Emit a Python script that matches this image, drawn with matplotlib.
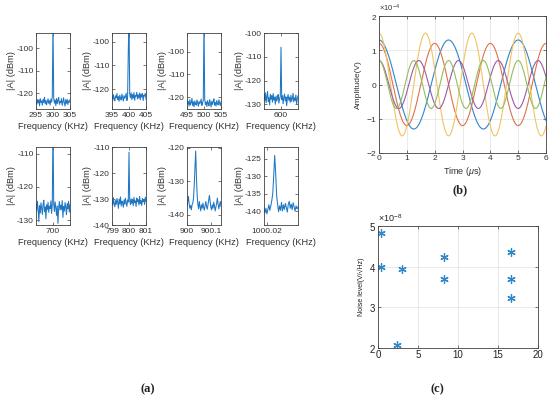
import numpy as np
import matplotlib
matplotlib.use('Agg')
import matplotlib.pyplot as plt
from matplotlib.ticker import ScalarFormatter

plt.rcParams['font.family'] = ['Liberation Sans', 'DejaVu Sans']
plt.rcParams['mathtext.fontset'] = 'custom'
plt.rcParams['mathtext.it'] = 'Liberation Sans:italic'
plt.rcParams['mathtext.rm'] = 'Liberation Sans'
plt.rcParams['axes.unicode_minus'] = False

########################################################################################
# (a) spectra, |A| in dBm, left noise + peak + right noise
spec300 = [-123.6,-125.1,-122.9,-124.4,-123.0,-125.7,-122.5,-124.1,-123.5,-125.4,-122.8,-124.2,
           -121.9,-124.8,-123.3,-125.2,-123.7,-122.6,-124.6,-123.4,-125.3,-122.7,-124.0,-121.6,
           -88.0,
           -122.2,-124.5,-123.1,-125.6,-122.4,-124.7,-123.2,-122.0,-125.0,-123.8,-124.3,-122.5,
           -125.5,-123.9,-122.1,-124.4,-125.8,-123.0,-124.6,-122.8,-125.1,-123.5,-124.1,-122.9]
spec400 = [-123.0,-124.8,-122.4,-124.1,-125.0,-122.9,-123.8,-121.9,-124.6,-123.2,-125.2,-122.6,
           -123.9,-124.7,-122.2,-123.5,-125.1,-122.8,-124.0,-123.3,-121.8,-124.9,-123.6,-104.0,
           -90.0,
           -122.0,-123.7,-121.6,-124.5,-122.3,-123.9,-121.5,-124.8,-122.7,-123.1,-121.4,-124.2,
           -122.5,-123.8,-121.7,-124.6,-122.1,-123.4,-121.9,-124.9,-122.6,-123.0,-121.8,-124.3]
spec500 = [-121.5,-123.2,-122.0,-124.0,-121.2,-123.5,-122.4,-120.6,-123.8,-122.1,-124.3,-121.7,
           -122.9,-123.6,-121.3,-122.6,-124.1,-121.9,-123.0,-122.3,-120.9,-123.7,-122.5,-121.4,
           -85.0,
           -121.0,-123.4,-122.2,-124.2,-121.6,-122.8,-123.9,-121.1,-122.7,-124.4,-121.8,-123.3,
           -122.0,-120.8,-123.6,-122.4,-124.0,-121.5,-122.9,-123.5,-121.2,-122.6,-123.8,-122.1]
spec600 = [-126.0,-128.5,-125.2,-129.4,-126.8,-124.6,-128.9,-127.2,-130.3,-125.8,-127.9,-126.3,
           -129.1,-125.5,-128.2,-127.0,-130.0,-126.5,-128.7,-127.4,-125.9,-129.5,-127.8,-126.6,
           -106.0,
           -128.0,-126.4,-129.8,-127.1,-125.7,-128.6,-126.9,-130.6,-127.5,-125.9,-128.3,-127.0,
           -129.2,-126.2,-128.8,-127.6,-125.4,-129.0,-127.3,-128.4,-126.1,-130.1,-127.7,-126.5]
spec700 = [-125.0,-127.2,-124.3,-126.8,-130.5,-125.6,-127.9,-124.8,-126.4,-128.3,-125.2,-124.0,
           -127.5,-126.0,-129.6,-125.4,-126.9,-124.6,-127.7,-125.8,-126.5,-124.2,-128.0,-125.3,
           -100.0,
           -125.1,-127.4,-124.5,-126.2,-128.6,-125.7,-131.0,-126.3,-124.4,-127.0,-125.5,-126.8,
           -124.1,-129.2,-125.9,-127.3,-124.7,-126.1,-128.4,-125.0,-126.6,-124.3,-127.6,-125.4]
spec800 = [-130.2,-132.4,-129.5,-131.8,-133.0,-130.6,-132.1,-129.8,-131.3,-133.6,-130.0,-131.9,
           -129.2,-132.7,-130.8,-131.5,-133.2,-130.3,-132.0,-129.7,-131.6,-132.8,-130.4,-131.2,
           -112.0,
           -130.5,-132.2,-129.9,-131.7,-130.1,-132.6,-129.4,-131.4,-130.7,-132.9,-129.6,-131.1,
           -130.3,-132.3,-129.0,-131.8,-130.6,-132.5,-129.8,-131.0,-130.2,-132.1,-129.3,-130.9]
spec900 = [-137.5,-136.0,-134.5,-136.8,-138.0,-137.2,-138.5,-137.0,-136.5,-135.0,-131.0,-126.0,
           -121.0,-128.5,-134.0,-136.8,-138.2,-136.0,-137.5,-138.8,-137.0,-138.0,-136.5,-137.8,
           -138.6,-137.2,-136.0,-137.5,-138.3,-137.0,-135.5,-134.2,-136.0,-137.8,-138.5,-137.0,
           -138.0,-136.2,-137.4,-138.8,-137.6,-136.5,-135.0,-136.8,-138.2,-137.0,-136.0,-137.5]
spec1000 = [-139.0,-140.5,-139.2,-140.8,-139.5,-138.2,-139.8,-138.5,-137.0,-135.0,-130.0,-124.0,
            -129.0,-135.5,-138.0,-140.2,-138.5,-139.8,-137.5,-140.0,-138.2,-139.5,-137.8,-139.0,
            -140.3,-138.0,-137.2,-139.2,-138.0,-139.6,-137.6,-138.8,-140.0,-138.5,-139.4,-138.8]

spectra = [spec300, spec400, spec500, spec600, spec700, spec800, spec900, spec1000]
freq_ranges = [(295, 305), (395, 405), (495, 505), (598.5, 601.5),
               (698.5, 701.5), (799, 801), (900, 900.14), (1000.0197, 1000.0235)]
freq_ticks = [[295, 300, 305], [395, 400, 405], [495, 500, 505], [600],
              [700], [799, 800, 801], [900, 900.1], [1000.02]]
freq_ticklabels = [['295', '300', '305'], ['395', '400', '405'], ['495', '500', '505'], ['600'],
                   ['700'], ['799', '800', '801'], ['900', '900.1'], ['1000.02']]
db_limits = [(-127.1, -93.3), (-128.5, -96.2), (-125.3, -91.6), (-132, -100),
             (-131.5, -107.9), (-140, -110), (-143, -119.8), (-144, -121.6)]
db_ticks = [[-120, -110, -100], [-120, -110, -100], [-120, -110, -100], [-130, -120, -110, -100],
            [-130, -120, -110], [-140, -130, -120, -110], [-140, -130, -120], [-140, -135, -130, -125]]

# (b) time signals: amplitude (V), frequency (MHz), phase (rad)
sig_amp = [1.3e-4, 1.2e-4, 1.5e-4, 0.7e-4, 0.7e-4]
sig_freq = [0.4, 0.5, 0.6, 0.7, 0.8]
sig_phase = [0.0, 0.0, 0.0, 0.0, 0.0]
sig_colors = ['#2f86c9', '#e0714a', '#f0c460', '#9a5aa8', '#93bf5c']

# (c) noise level
meas_x = [0.33, 0.33, 3.04, 2.38, 8.3, 8.3, 16.6, 16.6, 16.6]
noise_level = [4.82e-8, 3.98e-8, 3.94e-8, 2.08e-8, 4.24e-8, 3.69e-8, 4.35e-8, 3.70e-8, 3.24e-8]

########################################################################################
dark = '#404040'
txt = '#333333'

def style(ax, fs=6):
    for s in ax.spines.values():
        s.set_color(dark)
        s.set_linewidth(0.6)
    ax.tick_params(direction='in', top=True, right=True, length=2, width=0.5,
                   colors=dark, labelcolor=txt, labelsize=fs, pad=1.5)

fig = plt.figure(figsize=(5.5, 3.99), dpi=100)

lefts = [36, 112, 187, 264]
for k, vals in enumerate(spectra):
    row, col = divmod(k, 4)
    if row == 0:
        top, bot = 33, 109
    else:
        top, bot = 147, 225
    ax = fig.add_axes([lefts[col] / 550, 1 - bot / 399, 34 / 550, (bot - top) / 399])
    f = np.linspace(freq_ranges[k][0], freq_ranges[k][1], len(vals))
    ax.plot(f, vals, color='#1f77c4', lw=0.75)
    ax.set_xlim(freq_ranges[k])
    ax.set_ylim(db_limits[k])
    ax.set_xticks(freq_ticks[k])
    ax.set_xticklabels(freq_ticklabels[k])
    ax.set_yticks(db_ticks[k])
    style(ax, 6)
    ax.tick_params(axis='x', pad=2.5)
    ax.set_xlabel('Frequency (KHz)', fontsize=6.7, color=txt, labelpad=2)
    ax.set_ylabel('|A| (dBm)', fontsize=6.7, color=txt, labelpad=1)

# (b)
axb = fig.add_axes([379 / 550, 1 - 153 / 399, 167 / 550, 137 / 399])
t = np.linspace(0, 6, 700)
for a, fr, ph, c in zip(sig_amp, sig_freq, sig_phase, sig_colors):
    axb.plot(t, a * np.cos(2 * np.pi * fr * t + ph), color=c, lw=0.8)
axb.set_xlim(0, 6)
axb.set_ylim(-2e-4, 2e-4)
axb.set_xticks(range(7))
axb.set_yticks([-2e-4, -1e-4, 0, 1e-4, 2e-4])
fmt = ScalarFormatter(useMathText=True)
fmt.set_powerlimits((0, 0))
axb.yaxis.set_major_formatter(fmt)
axb.yaxis.get_offset_text().set_fontsize(5.5)
axb.yaxis.get_offset_text().set_color(txt)
axb.grid(True, color='#e2e2e2', lw=0.5)
axb.set_axisbelow(True)
style(axb, 6)
axb.set_xlabel(r'Time ($\mu$s)', fontsize=6.5, color=txt, labelpad=2)
axb.set_ylabel('Amplitude(V)', fontsize=6, color=txt, labelpad=3)

# (c)
axc = fig.add_axes([378 / 550, 1 - 348 / 399, 160 / 550, 122 / 399])
axc.plot(meas_x, noise_level, linestyle='none', marker=(6, 2, 0), markersize=6,
         markeredgewidth=0.9, color='#2f86c9')
axc.set_xlim(0, 20)
axc.set_ylim(2e-8, 5e-8)
axc.set_xticks([0, 5, 10, 15, 20])
axc.set_yticks([2e-8, 3e-8, 4e-8, 5e-8])
fmt2 = ScalarFormatter(useMathText=True)
fmt2.set_powerlimits((0, 0))
axc.yaxis.set_major_formatter(fmt2)
axc.yaxis.get_offset_text().set_fontsize(6.5)
axc.yaxis.get_offset_text().set_color('#222222')
axc.grid(True, color='#e2e2e2', lw=0.5)
axc.set_axisbelow(True)
style(axc, 7)
axc.tick_params(labelcolor='#222222')
axc.set_ylabel('Noise level(V/\u221aHz)', fontsize=5, color='#222222', labelpad=3)

for lab, x, y in [('(a)', 148, 389), ('(b)', 460, 190), ('(c)', 437, 389)]:
    fig.text(x / 550, 1 - y / 399, lab, ha='center', va='center', fontsize=9,
             fontweight='bold', family=['Liberation Serif', 'DejaVu Serif'], color='#222222')

fig.savefig('out.png', dpi=100)
